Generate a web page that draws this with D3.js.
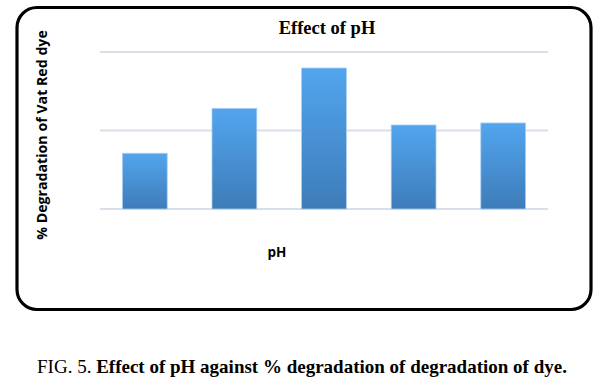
<!DOCTYPE html>
<html><head><meta charset="utf-8">
<script src="https://cdn.jsdelivr.net/npm/d3@7"></script>
<style>body{margin:0;background:#fff}svg{display:block}</style>
</head><body><svg id="c" width="599" height="392"></svg>
<script>
const categories = ["pH 3","pH 5","pH 7","pH 9","pH 11"];
const values = [35.5, 64.1, 89.8, 53.5, 54.8];
const yTicks = [0, 50, 100];
const title = "Effect of pH";
const xLabel = "pH";
const yLabel = "% Degradation of Vat Red dye";

const svg = d3.select("#c");
const defs = svg.append("defs");
const g = defs.append("linearGradient").attr("id","bg").attr("x1",0).attr("y1",0).attr("x2",0).attr("y2",1);
g.append("stop").attr("offset","0%").attr("stop-color","#52a5ee");
g.append("stop").attr("offset","100%").attr("stop-color","#3e7cb9");

svg.append("rect").attr("x",17).attr("y",7.5).attr("width",574).attr("height",302)
  .attr("rx",20).attr("fill","#fff").attr("stroke","#000").attr("stroke-width",3.2);

const x = d3.scaleBand().domain(categories).range([100,548]).paddingInner(0.5).paddingOuter(0.25);
const y = d3.scaleLinear().domain([0,100]).range([209,52]);

svg.append("g").selectAll("line").data(yTicks).join("line")
  .attr("x1",100).attr("x2",548).attr("y1",d=>y(d)).attr("y2",d=>y(d))
  .attr("stroke","#d9dfe8").attr("stroke-width",2);

svg.append("g").selectAll("rect").data(values).join("rect")
  .attr("x",(d,i)=>x(categories[i])).attr("width",x.bandwidth())
  .attr("y",d=>y(d)).attr("height",d=>y(0)-y(d))
  .attr("fill","url(#bg)").attr("stroke","#a9cdf0").attr("stroke-width",0.8);

const serif = "'Liberation Serif', 'Times New Roman', serif";
svg.append("text").attr("x",327).attr("y",34).attr("text-anchor","middle")
  .attr("font-family",serif).attr("font-weight","bold").attr("font-size",18.5).text(title);

svg.append("text").attr("x",277).attr("y",257).attr("text-anchor","middle")
  .attr("font-family","Open Sans").attr("font-weight","bold").attr("font-size",13.5).text(xLabel);

svg.append("text").attr("transform","translate(47,135) rotate(-90)").attr("text-anchor","middle")
  .attr("font-family","Open Sans").attr("font-weight","bold").attr("font-size",14.2).text(yLabel);

const cap = svg.append("text").attr("x",302).attr("y",373).attr("text-anchor","middle")
  .attr("font-family",serif).attr("font-size",19);
cap.append("tspan").text("FIG. 5. ");
cap.append("tspan").attr("font-weight","bold").text("Effect of pH against % degradation of degradation of dye.");
</script></body></html>
